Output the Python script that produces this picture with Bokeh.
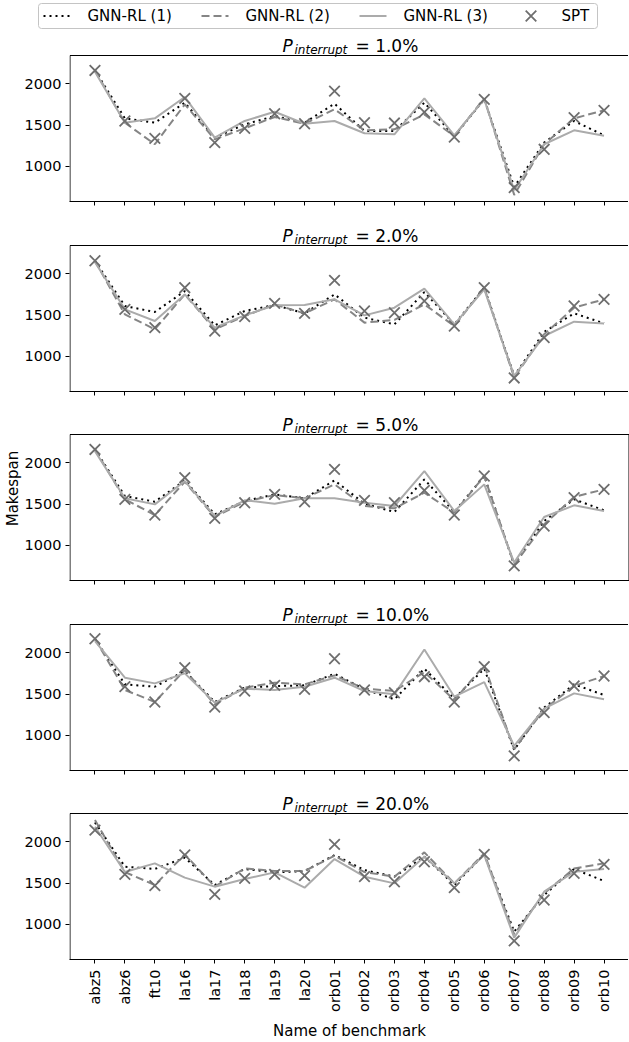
import math
from bokeh.plotting import figure
from bokeh.models import (Range1d, FactorRange, FixedTicker, Label,
                          BoxAnnotation, CustomJSTickFormatter)
from bokeh.core.properties import value
from bokeh.layouts import column
from bokeh.embed import file_html
from bokeh.resources import INLINE

FONT = "DejaVu Sans"

cats = ["abz5", "abz6", "ft10", "la16", "la17", "la18", "la19", "la20",
        "orb01", "orb02", "orb03", "orb04", "orb05", "orb06", "orb07",
        "orb08", "orb09", "orb10"]

p_interrupt = ["1.0%", "2.0%", "5.0%", "10.0%", "20.0%"]

# P = 1.0%
spt_1 = [2161, 1549, 1339, 1823, 1287, 1460, 1637, 1516, 1911, 1528, 1524, 1657, 1355, 1811, 743, 1206, 1589, 1678]
gnn1_1 = [2161, 1581, 1528, 1770, 1347, 1508, 1609, 1528, 1758, 1428, 1428, 1770, 1367, 1811, 751, 1287, 1549, 1375]
gnn2_1 = [2161, 1528, 1267, 1750, 1327, 1460, 1597, 1516, 1690, 1436, 1448, 1629, 1367, 1823, 654, 1267, 1581, 1678]
gnn3_1 = [2145, 1528, 1581, 1839, 1347, 1549, 1661, 1516, 1549, 1400, 1387, 1823, 1375, 1811, 710, 1267, 1436, 1371]

# P = 2.0%
spt_2 = [2157, 1569, 1347, 1831, 1307, 1480, 1641, 1520, 1919, 1549, 1528, 1670, 1367, 1831, 738, 1226, 1609, 1690]
gnn1_2 = [2157, 1609, 1537, 1790, 1375, 1549, 1621, 1520, 1750, 1468, 1387, 1778, 1387, 1831, 763, 1295, 1520, 1400]
gnn2_2 = [2157, 1508, 1327, 1750, 1327, 1488, 1629, 1520, 1690, 1408, 1440, 1629, 1367, 1831, 743, 1267, 1589, 1690]
gnn3_2 = [2141, 1569, 1428, 1750, 1347, 1496, 1617, 1621, 1690, 1496, 1589, 1819, 1387, 1811, 763, 1246, 1420, 1396]

# P = 5.0%
spt_3 = [2161, 1557, 1367, 1819, 1327, 1516, 1617, 1528, 1919, 1545, 1516, 1665, 1367, 1839, 751, 1234, 1577, 1678]
gnn1_3 = [2161, 1597, 1528, 1786, 1375, 1536, 1617, 1569, 1786, 1504, 1404, 1798, 1404, 1839, 763, 1295, 1557, 1424]
gnn2_3 = [2161, 1557, 1367, 1770, 1343, 1528, 1609, 1569, 1738, 1476, 1448, 1637, 1396, 1839, 763, 1254, 1585, 1678]
gnn3_3 = [2141, 1569, 1496, 1778, 1355, 1545, 1504, 1569, 1569, 1516, 1476, 1899, 1415, 1738, 791, 1343, 1484, 1416]

# P = 10.0%
spt_4 = [2169, 1589, 1404, 1819, 1343, 1537, 1605, 1557, 1927, 1549, 1516, 1710, 1404, 1831, 751, 1275, 1597, 1718]
gnn1_4 = [2169, 1617, 1589, 1778, 1404, 1577, 1597, 1605, 1746, 1557, 1436, 1807, 1444, 1807, 823, 1335, 1617, 1488]
gnn2_4 = [2169, 1549, 1404, 1790, 1375, 1577, 1637, 1617, 1726, 1565, 1537, 1766, 1428, 1847, 831, 1315, 1597, 1718]
gnn3_4 = [2141, 1698, 1629, 1750, 1396, 1565, 1549, 1589, 1698, 1537, 1496, 2040, 1468, 1645, 872, 1323, 1508, 1436]

# P = 20.0%
spt_5 = [2141, 1605, 1468, 1839, 1363, 1557, 1605, 1589, 1968, 1577, 1516, 1758, 1444, 1847, 799, 1295, 1617, 1726]
gnn1_5 = [2234, 1698, 1670, 1807, 1476, 1670, 1629, 1645, 1839, 1657, 1577, 1819, 1476, 1847, 912, 1355, 1670, 1524]
gnn2_5 = [2262, 1633, 1476, 1847, 1456, 1677, 1645, 1645, 1831, 1633, 1577, 1871, 1496, 1859, 880, 1375, 1677, 1738]
gnn3_5 = [2181, 1633, 1738, 1565, 1456, 1549, 1629, 1444, 1790, 1577, 1496, 1819, 1496, 1839, 839, 1395, 1637, 1670]

panels = [
    (spt_1, gnn1_1, gnn2_1, gnn3_1),
    (spt_2, gnn1_2, gnn2_2, gnn3_2),
    (spt_3, gnn1_3, gnn2_3, gnn3_3),
    (spt_4, gnn1_4, gnn2_4, gnn3_4),
    (spt_5, gnn1_5, gnn2_5, gnn3_5),
]

series_labels = ["GNN-RL (1)", "GNN-RL (2)", "GNN-RL (3)", "SPT"]

C_DOT = "#000000"
C_DASH = "#858585"
C_SOLID = "#ababab"
C_X = "#6e6e6e"

STYLE_DOT = dict(line_color=C_DOT, line_width=2, line_dash="2 4")
STYLE_DASH = dict(line_color=C_DASH, line_width=2, line_dash="8 4")
STYLE_SOLID = dict(line_color=C_SOLID, line_width=2)
STYLE_X = dict(marker="x", size=15, line_color=C_X, line_width=1.8)
LINE_STYLES = [STYLE_DOT, STYLE_DASH, STYLE_SOLID]

LEFT = 68
FW, FH = 560, 146
YMIN, YMAX = 574, 2342
UPP = (YMAX - YMIN) / FH  # data units per pixel
TOTAL_W = LEFT + FW

# ---- legend strip (key drawn in pixel space of its own small figure) ----
LH = 31
leg = figure(width=TOTAL_W, height=LH, toolbar_location=None, output_backend="svg",
             min_border=0, x_axis_location=None, y_axis_location=None,
             x_range=Range1d(0, TOTAL_W), y_range=Range1d(0, LH))
leg.frame_align = False
leg.grid.visible = False
leg.outline_line_color = None
leg.add_layout(BoxAnnotation(left=38, right=597, bottom=3, top=28,
                             fill_alpha=0, line_color="#c4c4c4", line_width=1,
                             line_alpha=1, border_radius=3))
pitch = 158
ymid = 15.5
for k, lab in enumerate(series_labels):
    x0 = 43 + k * pitch
    if k < 3:
        leg.line(x=[x0, x0 + 27], y=[ymid, ymid], **LINE_STYLES[k])
    else:
        leg.scatter(x=[x0 + 13.5], y=[ymid], **STYLE_X)
    leg.text(x=[x0 + 44], y=[ymid], text=[lab], text_font=value(FONT),
             text_font_size="15px", text_baseline="middle", text_align="left",
             text_color="black")

xr = FactorRange(factors=cats, range_padding=0.35, range_padding_units="absolute")

bottoms = [6, 5, 6, 5, 0]
figs = [leg]
for i, (spt, g1, g2, g3) in enumerate(panels):
    last = (i == len(panels) - 1)
    top_space = 24 if i == 0 else 38
    yr = Range1d(YMIN, YMAX + top_space * UPP)
    p = figure(x_range=xr, y_range=yr, frame_width=FW, frame_height=FH + top_space,
               min_border_left=LEFT, min_border_right=0,
               min_border_top=0, min_border_bottom=bottoms[i],
               toolbar_location=None, output_backend="svg")
    p.grid.visible = False
    p.outline_line_color = None
    p.background_fill_color = "white"

    p.line(x=cats, y=g1, **STYLE_DOT)
    p.line(x=cats, y=g2, **STYLE_DASH)
    p.line(x=cats, y=g3, **STYLE_SOLID)
    p.scatter(x=cats, y=spt, **STYLE_X)

    # spines of the data area
    p.add_layout(BoxAnnotation(left=0.5, right=FW - 0.5, left_units="screen",
                               right_units="screen", bottom=YMIN, top=YMAX,
                               fill_alpha=0, line_color="black", line_width=1,
                               line_alpha=1))

    p.yaxis.ticker = FixedTicker(ticks=[1000, 1500, 2000])
    p.yaxis.minor_tick_line_color = None
    p.yaxis.axis_line_color = None
    p.xaxis.axis_line_color = "black"
    p.axis.major_tick_in = 0
    p.axis.major_tick_out = 4
    p.axis.major_tick_line_color = "black"
    p.axis.major_label_text_font = FONT
    p.axis.major_label_text_font_size = "14.5px"
    p.axis.major_label_text_color = "black"
    p.yaxis.major_label_standoff = 4

    if last:
        p.xaxis.major_label_orientation = math.pi / 2
        p.xaxis.major_label_standoff = 6
        p.xaxis.axis_label = "Name of benchmark"
        p.xaxis.axis_label_text_font = FONT
        p.xaxis.axis_label_text_font_size = "15px"
        p.xaxis.axis_label_text_font_style = "normal"
        p.xaxis.axis_label_text_color = "black"
        p.xaxis.axis_label_standoff = 7
    else:
        p.xaxis.formatter = CustomJSTickFormatter(code="return ''")
        p.xaxis.major_label_standoff = 0

    if i == 2:
        p.yaxis.axis_label = "Makespan"
        p.yaxis.axis_label_text_font = FONT
        p.yaxis.axis_label_text_font_size = "15px"
        p.yaxis.axis_label_text_font_style = "normal"
        p.yaxis.axis_label_text_color = "black"
        p.yaxis.axis_label_standoff = 0

    # title: P_interrupt = x%
    start = FW / 2 - 67
    base = FH + 10
    p.add_layout(Label(x=start, y=base, x_units="screen", y_units="screen",
                       text="P", text_font=FONT, text_font_style="italic",
                       text_font_size="17px", text_align="left",
                       text_baseline="alphabetic", text_color="black"))
    p.add_layout(Label(x=start + 12, y=base - 4, x_units="screen", y_units="screen",
                       text="interrupt", text_font=FONT, text_font_style="italic",
                       text_font_size="12px", text_align="left",
                       text_baseline="alphabetic", text_color="black"))
    p.add_layout(Label(x=start + 73, y=base, x_units="screen", y_units="screen",
                       text="= " + p_interrupt[i], text_font=FONT,
                       text_font_size="17px", text_align="left",
                       text_baseline="alphabetic", text_color="black"))
    figs.append(p)

layout = column(*figs)
open("out.html", "w").write(file_html(layout, INLINE))
